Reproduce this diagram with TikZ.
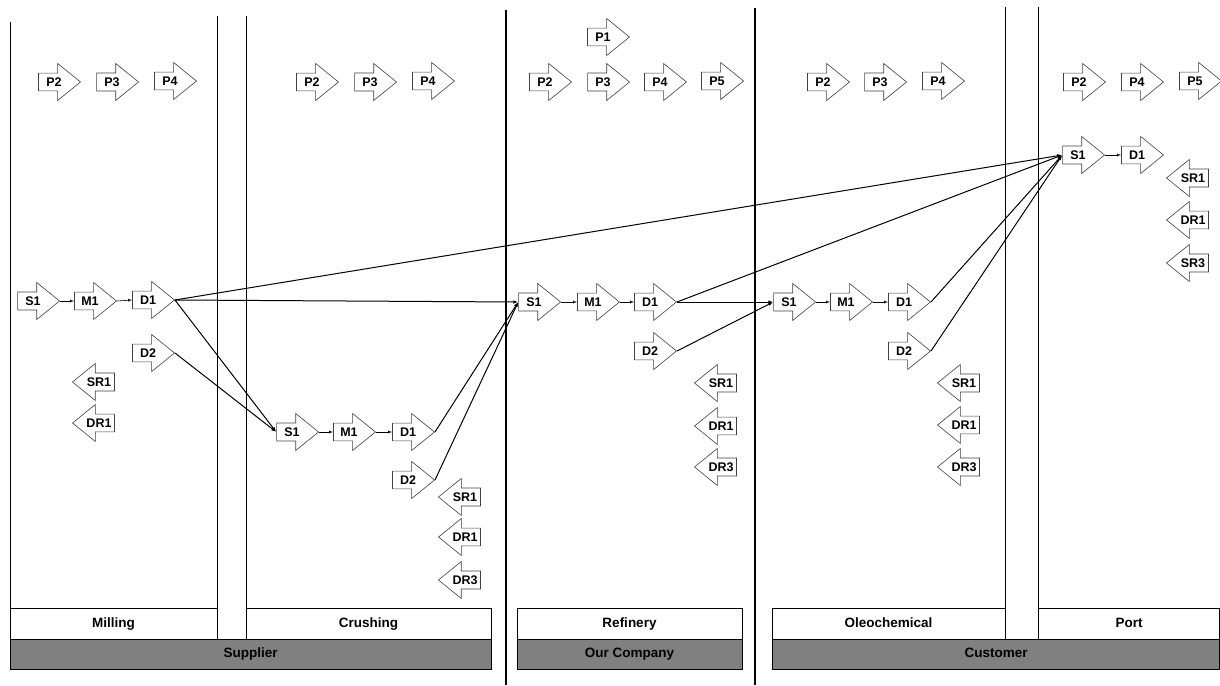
\documentclass[tikz,border=0pt]{standalone}
\usepackage{fontspec}
\setmainfont{Liberation Sans}
\usetikzlibrary{shapes.arrows,arrows.meta}

\tikzset{
  stage/.style={single arrow, draw=black!75, fill=white, line width=0.6pt,
    inner sep=0pt, minimum height=42pt, minimum width=37pt,
    single arrow head extend=5pt, single arrow tip angle=78,
    font=\bfseries\fontsize{12.5}{12.5}\selectfont},
  back/.style={stage, shape border rotate=180},
  hop/.style={line width=0.6pt, -{Latex[open,length=4pt,width=3pt]}},
  link/.style={line width=1pt, -{Latex[open,length=5pt,width=3.5pt]}},
  lanebox/.style={draw, fill=white, line width=0.6pt},
  partybar/.style={draw, fill=black!50, line width=0.6pt},
  boxtext/.style={font=\bfseries\fontsize{13.5}{13.5}\selectfont,
    text height=10pt, text depth=3pt, inner sep=0pt}
}

\begin{document}
\begin{tikzpicture}[x=1pt,y=-1pt]
  \useasboundingbox (0,0) rectangle (1220,685);

  % lane lines
  \draw[line width=0.6pt] (10,22) -- (10,608);
  \draw[line width=0.6pt] (217,16) -- (217,639);
  \draw[line width=0.6pt] (246,16) -- (246,639);
  \draw[line width=0.6pt] (1005,7) -- (1005,639);
  \draw[line width=0.6pt] (1038,7) -- (1038,639);
  \draw[line width=1.5pt] (506,10) -- (506,685);
  \draw[line width=1.5pt] (755,8) -- (755,685);

  % bottom boxes
  \draw[lanebox] (10,608) rectangle (217,639);
  \node[boxtext] (milling) at (113.5,623.5) {Milling};
  \draw[lanebox] (246,608) rectangle (491,639);
  \node[boxtext] (crushing) at (368.5,623.5) {Crushing};
  \draw[partybar] (10,639) rectangle (491,669);
  \node[boxtext] (supplier) at (250.5,654) {Supplier};

  \draw[lanebox] (517,608) rectangle (742,639);
  \node[boxtext] (refinery) at (629.5,623.5) {Refinery};
  \draw[partybar] (517,639) rectangle (742,669);
  \node[boxtext] (ourco) at (629.5,654) {Our Company};

  \draw[lanebox] (772,608) rectangle (1005,639);
  \node[boxtext] (oleo) at (888.5,623.5) {Oleochemical};
  \draw[lanebox] (1038,608) rectangle (1219.5,639);
  \node[boxtext] (port) at (1129,623.5) {Port};
  \draw[partybar] (772,639) rectangle (1219.5,669);
  \node[boxtext] (customer) at (996,654) {Customer};

  % Milling
  \node[stage] (milP2) at (54,82) {P2};
  \node[stage] (milP3) at (112,82) {P3};
  \node[stage] (milP4) at (170,81) {P4};
  \node[stage] (milS1) at (33,301) {S1};
  \node[stage] (milM1) at (90,301) {M1};
  \node[stage] (milD1) at (148,300) {D1};
  \node[stage] (milD2) at (148,353) {D2};
  \node[back] (milSR1) at (99,382) {SR1};
  \node[back] (milDR1) at (99,423) {DR1};

  % Crushing
  \node[stage] (cruP2) at (312,82) {P2};
  \node[stage] (cruP3) at (370,82) {P3};
  \node[stage] (cruP4) at (428,81) {P4};
  \node[stage] (cruS1) at (292,432) {S1};
  \node[stage] (cruM1) at (349,432) {M1};
  \node[stage] (cruD1) at (408,432) {D1};
  \node[stage] (cruD2) at (408,480) {D2};
  \node[back] (cruSR1) at (465,497) {SR1};
  \node[back] (cruDR1) at (465,537) {DR1};
  \node[back] (cruDR3) at (465,580) {DR3};

  % Refinery
  \node[stage] (refP1) at (603,37) {P1};
  \node[stage] (refP2) at (545,82) {P2};
  \node[stage] (refP3) at (603,82) {P3};
  \node[stage] (refP4) at (660,82) {P4};
  \node[stage] (refP5) at (717,81) {P5};
  \node[stage] (refS1) at (534,302) {S1};
  \node[stage] (refM1) at (593,302) {M1};
  \node[stage] (refD1) at (650,302) {D1};
  \node[stage] (refD2) at (650,351) {D2};
  \node[back] (refSR1) at (721,383) {SR1};
  \node[back] (refDR1) at (721,426) {DR1};
  \node[back] (refDR3) at (721,467) {DR3};

  % Oleochemical
  \node[stage] (oleP2) at (823,82) {P2};
  \node[stage] (oleP3) at (880,82) {P3};
  \node[stage] (oleP4) at (938,81) {P4};
  \node[stage] (oleS1) at (789,302) {S1};
  \node[stage] (oleM1) at (846,302) {M1};
  \node[stage] (oleD1) at (904,302) {D1};
  \node[stage] (oleD2) at (904,351) {D2};
  \node[back] (oleSR1) at (964,383) {SR1};
  \node[back] (oleDR1) at (964,425) {DR1};
  \node[back] (oleDR3) at (964,467) {DR3};

  % Port
  \node[stage] (porP2) at (1079,82) {P2};
  \node[stage] (porP4) at (1137,82) {P4};
  \node[stage] (porP5) at (1195,81) {P5};
  \node[stage] (porS1) at (1078,155) {S1};
  \node[stage] (porD1) at (1137,155) {D1};
  \node[back] (porSR1) at (1193,178) {SR1};
  \node[back] (porDR1) at (1193,220) {DR1};
  \node[back] (porSR3) at (1193,263) {SR3};

  % steps inside a lane
  \draw[hop] (milS1.tip) -- (milM1.tail);
  \draw[hop] (milM1.tip) -- (milD1.tail);
  \draw[hop] (cruS1.tip) -- (cruM1.tail);
  \draw[hop] (cruM1.tip) -- (cruD1.tail);
  \draw[hop] (refS1.tip) -- (refM1.tail);
  \draw[hop] (refM1.tip) -- (refD1.tail);
  \draw[hop] (oleS1.tip) -- (oleM1.tail);
  \draw[hop] (oleM1.tip) -- (oleD1.tail);
  \draw[hop] (porS1.tip) -- (porD1.tail);

  % flows between lanes
  \draw[link] (milD1.tip) -- (porS1.tail);
  \draw[link] (milD1.tip) -- (refS1.tail);
  \draw[link] (milD1.tip) -- (cruS1.tail);
  \draw[link] (milD2.tip) -- (cruS1.tail);
  \draw[link] (cruD1.tip) -- (refS1.tail);
  \draw[link] (cruD2.tip) -- (refS1.tail);
  \draw[link] (refD1.tip) -- (porS1.tail);
  \draw[link] (refD1.tip) -- (oleS1.tail);
  \draw[link] (refD2.tip) -- (oleS1.tail);
  \draw[link] (oleD1.tip) -- (porS1.tail);
  \draw[link] (oleD2.tip) -- (porS1.tail);
\end{tikzpicture}
\end{document}
